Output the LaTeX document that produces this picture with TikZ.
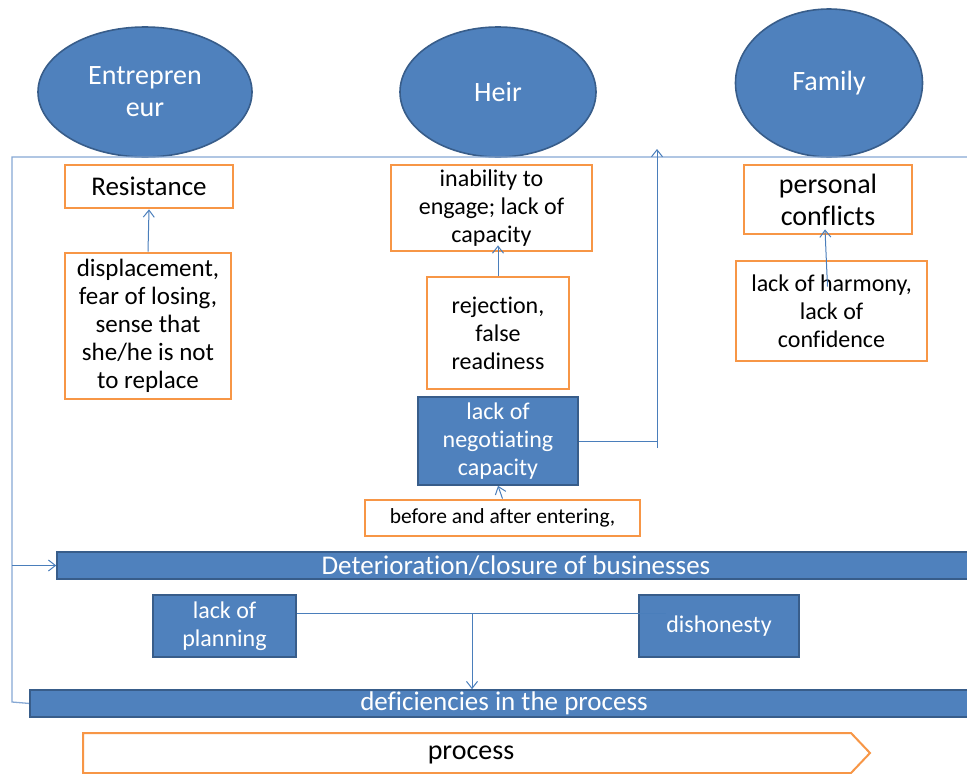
\documentclass[tikz,border=0pt]{standalone}
\usepackage{fontspec}
\setmainfont{Carlito}[RawFeature={-liga;-clig;-calt;-dlig}]
\usetikzlibrary{shapes.geometric,calc}

\definecolor{offblue}{HTML}{4F81BD}
\definecolor{offdark}{HTML}{385D8A}
\definecolor{offorange}{HTML}{F79646}
\definecolor{linkblue}{HTML}{4A7EBB}
\definecolor{fbblue}{HTML}{86A8D4}

\tikzset{
  actor/.style={ellipse, draw=offdark, line width=1.6pt, fill=offblue, text=white, inner sep=0pt, align=center, font=\fontsize{28}{32}\selectfont},
  causebox/.style={draw=offorange, line width=2.8pt, fill=white, inner sep=0pt, align=center, font=\fontsize{24}{28}\selectfont},
  bluebox/.style={draw=offdark, line width=1.6pt, fill=offblue, text=white, inner sep=0pt, align=center, font=\fontsize{24}{28}\selectfont},
  bar/.style={bluebox, font=\fontsize{27}{30}\selectfont},
  link/.style={draw=linkblue, line width=1pt, ->, >={Straight Barb[length=7pt,width=11pt]}},
  fb/.style={draw=fbblue, line width=1.3pt}
}
\usetikzlibrary{arrows.meta}

\begin{document}
\begin{tikzpicture}[x=1pt,y=-1pt]
\useasboundingbox (0,0) rectangle (967,774);

% feedback frame
\coordinate (fbR) at (975,157);
\coordinate (fbL) at (12,157);
\coordinate (fbB) at (12,702);
\coordinate (up1) at (657,448);
\coordinate (up2) at (657,149);
\coordinate (joint) at (657,441);
\coordinate (mid) at (472,613);

% actors
\node[actor, minimum width=214, minimum height=130] (ent) at (145,92) {Entrepren\\eur};
\node[actor, minimum width=196, minimum height=130] (heir) at (498,92) {Heir};
\node[actor, minimum width=187, minimum height=148] (fam) at (829,83) {Family};

\draw[fb] (fbR) -- (fbL) -- (fbB) -- (30,703.5);

% entrepreneur
\node[causebox, minimum width=168, minimum height=43, font=\fontsize{27}{30}\selectfont] (res) at (149,186.5) {Resistance};
\node[causebox, minimum width=166, minimum height=146, font=\fontsize{25}{28}\selectfont] (disp) at (148,326) {displacement,\\fear of losing,\\sense that\\she/he is not\\to replace};

% heir
\node[causebox, minimum width=201, minimum height=86] (inab) at (491.5,208) {inability to\\engage; lack of\\capacity};
\node[causebox, minimum width=142, minimum height=112] (rej) at (498,333) {rejection,\\false\\readiness};
\node[bluebox, minimum width=160, minimum height=88] (neg) at (498,441) {lack of\\negotiating\\capacity};
\node[causebox, minimum width=275, minimum height=36, font=\fontsize{21.5}{24}\selectfont] (befr) at (502.5,518) {before and after entering,};

% family
\node[causebox, minimum width=168, minimum height=69, font=\fontsize{28}{32}\selectfont] (pers) at (828,199.5) {personal\\conflicts};
\node[causebox, minimum width=191, minimum height=100] (harm) at (831.5,311) {lack of harmony,\\lack of\\confidence};

% bottom
\node[bar, minimum width=918, minimum height=27] (det) at (516,565.5) {Deterioration/closure of businesses};
\node[bluebox, minimum width=143, minimum height=62] (plan) at (224.5,626) {lack of\\planning};
\node[bluebox, minimum width=160, minimum height=62] (dish) at (719,626) {dishonesty};
\node[bar, minimum width=948, minimum height=27] (defi) at (504,703.5) {deficiencies in the process};

\draw[draw=offorange, line width=2pt, fill=white] (83,733) -- (851,733) -- (870,753) -- (851,773) -- (83,773) -- cycle;
\node[font=\fontsize{28}{32}\selectfont] (proc) at (471,755) {process};

% connectors
\draw[link] (disp.north) -- (res.south);
\draw[link] (rej.north) -- ($(rej.north |- inab.south)+(0,-7)$);
\draw[link] (befr.north) -- (neg.south);
\draw[link] ($(harm.north)+(-4,27)$) -- ($(pers.south)+(-3,-6)$);
\draw[draw=linkblue, line width=1pt] (neg.east) -- (joint);
\draw[link] (up1) -- (up2);
\draw[link] (fbL |- det.west) -- (det.west);
\draw[draw=linkblue, line width=1pt] ($(plan.east)+(0,-13)$) -- ($(dish.west)+(28,-13)$);
\draw[link] (mid) -- (mid |- defi.north);
\end{tikzpicture}
\end{document}
